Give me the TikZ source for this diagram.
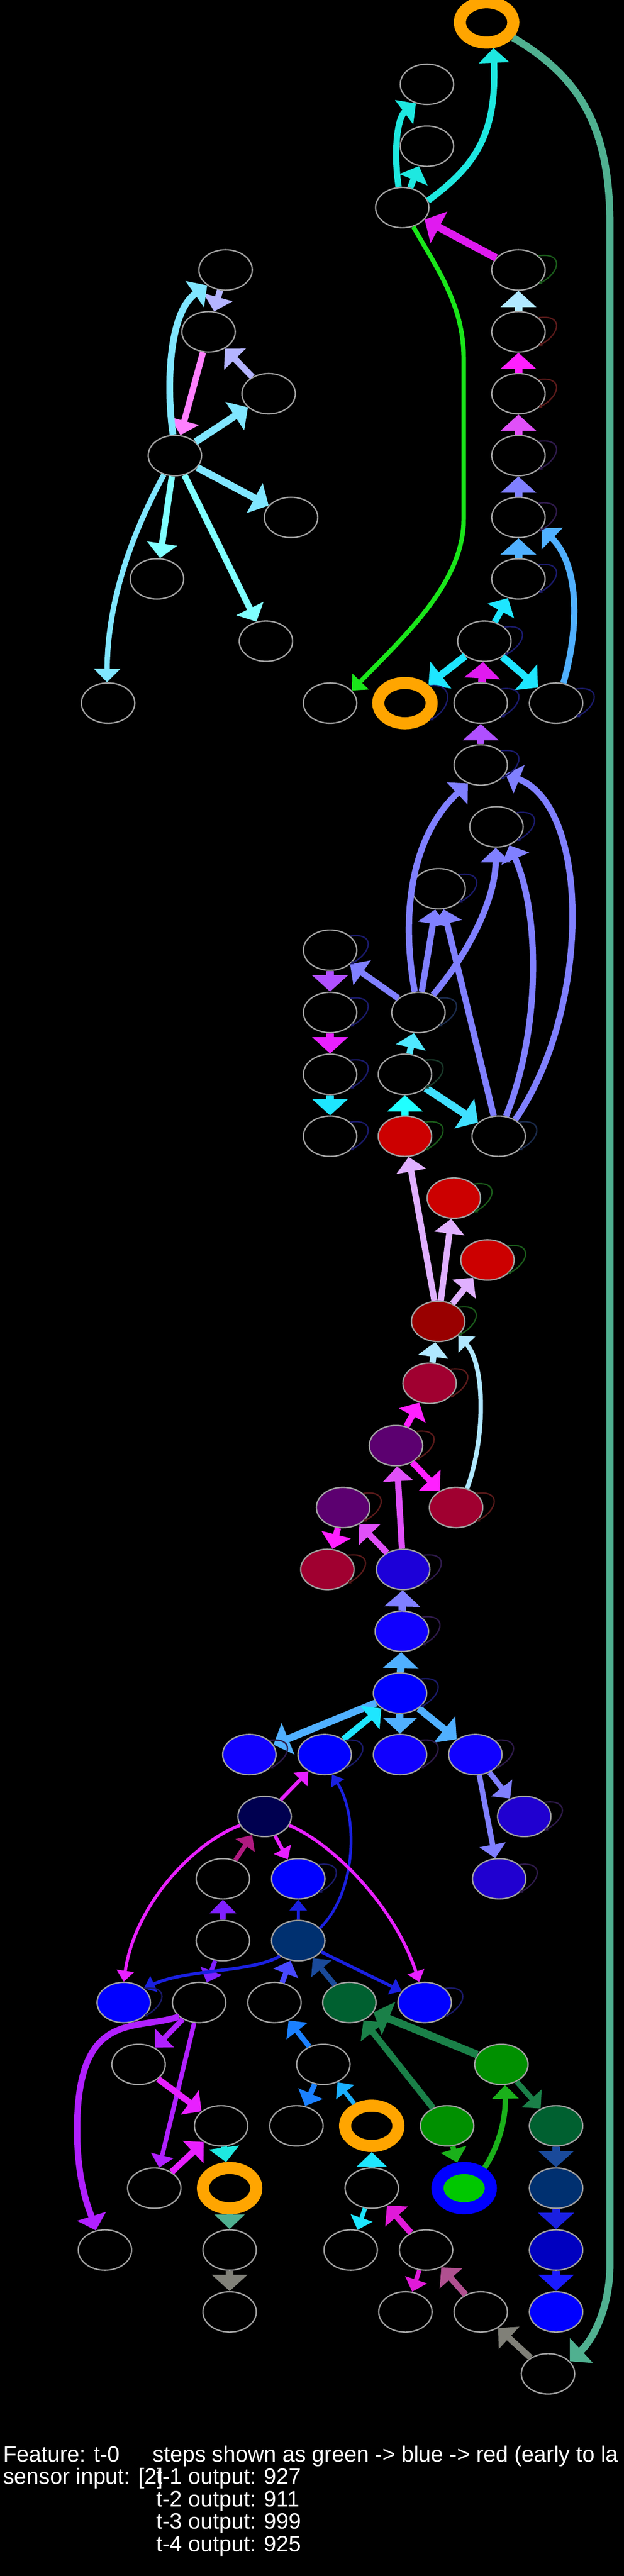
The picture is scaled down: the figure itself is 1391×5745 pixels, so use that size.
\documentclass[tikz,border=0pt]{standalone}
\usepackage{fontspec}
\setmainfont{Liberation Sans}
\usetikzlibrary{arrows.meta,shapes.geometric}

\definecolor{ndgray}{HTML}{A0A0A0}
\definecolor{ringor}{HTML}{FFA500}
\definecolor{fRed}{HTML}{CC0000}
\definecolor{fDred}{HTML}{990000}
\definecolor{fCrim}{HTML}{A00030}
\definecolor{fPurp}{HTML}{5C0070}
\definecolor{fViol}{HTML}{1C00D8}
\definecolor{fBlu}{HTML}{1000FF}
\definecolor{fNavy}{HTML}{000050}
\definecolor{fInd}{HTML}{2000D0}
\definecolor{fDnav}{HTML}{003070}
\definecolor{fDgrn}{HTML}{006030}
\definecolor{fGrn}{HTML}{009000}
\definecolor{fMblu}{HTML}{0000C0}
\definecolor{fLgrn}{HTML}{00C800}
\definecolor{cyA}{HTML}{1EE8E0}
\definecolor{cyB}{HTML}{1EE6FF}
\definecolor{cyC}{HTML}{50E8FF}
\definecolor{cyD}{HTML}{20FFFF}
\definecolor{cyE}{HTML}{40E0FF}
\definecolor{mgA}{HTML}{E01AF0}
\definecolor{mgB}{HTML}{FF20FF}
\definecolor{mgC}{HTML}{E820FF}
\definecolor{mgD}{HTML}{E01AD8}
\definecolor{vlA}{HTML}{E050F8}
\definecolor{vlB}{HTML}{B050FF}
\definecolor{vlC}{HTML}{8020FF}
\definecolor{vlD}{HTML}{B020FF}
\definecolor{pw}{HTML}{8080FF}
\definecolor{azA}{HTML}{50B0FF}
\definecolor{azB}{HTML}{1A80FF}
\definecolor{azC}{HTML}{1AB0FF}
\definecolor{lbA}{HTML}{B0E8FF}
\definecolor{skA}{HTML}{80E6FF}
\definecolor{skB}{HTML}{80FFFF}
\definecolor{lvA}{HTML}{B4B4FF}
\definecolor{lvB}{HTML}{E0B0FF}
\definecolor{pkA}{HTML}{FF80FF}
\definecolor{plA}{HTML}{B01A80}
\definecolor{plB}{HTML}{B05090}
\definecolor{blA}{HTML}{1A20E0}
\definecolor{blB}{HTML}{4848FF}
\definecolor{blC}{HTML}{1A1AFF}
\definecolor{stA}{HTML}{1A4A9A}
\definecolor{gnA}{HTML}{1A8048}
\definecolor{gnB}{HTML}{1AB01A}
\definecolor{gnC}{HTML}{1AE61A}
\definecolor{tlA}{HTML}{50B090}
\definecolor{gyA}{HTML}{808078}
\definecolor{lgn}{HTML}{1A5A1A}
\definecolor{lrd}{HTML}{5A1A1A}
\definecolor{lpr}{HTML}{2E1A4A}
\definecolor{lnv}{HTML}{1A1A6A}
\definecolor{lsl}{HTML}{1A2A4A}
\definecolor{lsg}{HTML}{1A3A2A}

\tikzset{
  nd/.style={ellipse, draw=ndgray, line width=3pt, fill=black, minimum width=119pt, minimum height=90pt, inner sep=0pt},
  ring/.style={nd, draw=ringor, line width=27pt},
  ed/.style={line width=#1pt, -{Triangle[length=16pt 1.2,width=10pt 4]}},
  lp/.style={draw=#1, line width=3pt, -{Triangle[length=8pt,width=8pt]}},
  txt/.style={text=white, anchor=base west, inner sep=0pt, font=\fontsize{49.5}{50}\selectfont}
}

\begin{document}
\begin{tikzpicture}[x=1pt,y=1pt]
  \path[use as bounding box, fill=black] (0,0) rectangle (1391,-5745);

  \foreach \n/\x/\y/\f in {B/952/188/black, C/952/326/black, D/897/463/black, E/1156/602/black,
      F/1156/740/black, G/503/602/black, H/465/740/black, I/599/878/black, J/1156/878/black,
      K/390/1016/black, L/1156/1016/black, M/649/1154/black, N/1156/1154/black, O/350/1291/black,
      P/1156/1291/black, Q/593/1430/black, R/1080/1430/black, S/241/1568/black, T/736/1568/black,
      V/1072/1568/black, W/1240/1568/black, X/1072/1706/black, Y/1107/1844/black, Z/978/1982/black,
      AA/736/2119/black, AB/736/2258/black, AC/933/2258/black, AD/736/2396/black, AE/903/2396/black,
      AF/736/2534/black, AG/903/2534/fRed, AH/1112/2534/black, AI/1012/2672/fRed, AJ/1087/2810/fRed,
      AK/977/2947/fDred, AL/958/3085/fCrim, AM/883/3224/fPurp, AN/765/3362/fPurp, AO/1017/3362/fCrim,
      AP/730/3500/fCrim, AQ/899/3500/fViol, AR/896/3638/fBlu, AS/892/3776/blue, AT/556/3913/fBlu,
      AU/724/3913/blue, AV/892/3913/fBlu, AW/1060/3913/fBlu, AY/590/4051/fNavy, AZ/1169/4051/fInd,
      BA/497/4190/black, BB/665/4190/blue, BC/1113/4190/fInd, BD/497/4328/black, BE/665/4328/fDnav,
      BF/276/4466/blue, BG/444/4466/black, BH/612/4466/black, BI/779/4466/fDgrn, BJ/947/4466/blue,
      BK/309/4604/black, BL/721/4604/black, BM/1118/4604/fGrn, BN/493/4741/black, BO/661/4741/black,
      BQ/997/4741/fGrn, BR/1240/4741/fDgrn, BU/344/4880/black, BW/829/4880/black, BX/1240/4880/fDnav,
      BY/234/5018/black, BZ/512/5018/black, CA/782/5018/black, CB/950/5018/black, CC/1240/5018/fMblu,
      CD/512/5156/black, CE/904/5156/black, CF/1072/5156/black, CG/1240/5156/blue, CH/1222/5294/black}
    \node[nd, fill=\f] (\n) at (\x,-\y) {};
  \node[ring] (A) at (1085,-50) {};
  \node[ring] (U) at (903,-1568) {};
  \node[ring] (BP) at (829,-4741) {};
  \node[ring] (BV) at (512,-4880) {};
  \node[ring, draw=blue, fill=fLgrn] (BT) at (1035,-4880) {};

  \foreach \a/\b/\w/\c in {D/C/14/cyA, E/D/17/mgA, F/E/17/lbA, J/F/17/mgB, L/J/17/vlA, N/L/17/pw,
      P/N/17/azA, R/P/14/cyB, R/U/16/cyB, R/W/16/cyB, V/R/17/mgA, X/V/17/vlB, G/H/14/lvA, I/H/14/lvA,
      H/K/14/pkA, K/I/16/skA, K/M/16/skA, K/O/14/skB, K/Q/14/skB, AC/Z/14/pw, AC/AA/14/pw, AH/Z/14/pw,
      AA/AB/17/vlB, AB/AD/17/mgC, AE/AC/14/cyC, AD/AF/17/cyB, AG/AE/17/cyD, AE/AH/17/cyE,
      AK/AG/14/lvB, AK/AI/14/lvB, AK/AJ/14/lvB, AL/AK/14/lbA, AM/AL/14/mgB, AM/AO/14/mgB,
      AQ/AM/14/vlA, AQ/AN/14/vlA, AN/AP/14/mgB, AR/AQ/17/pw, AS/AR/17/azA, AS/AT/16/azA,
      AS/AV/16/azA, AS/AW/16/azA, AU/AS/14/cyB, AW/AZ/12/pw, AW/BC/12/pw, AY/AU/8/mgC, AY/BB/8/mgC,
      BA/AY/10/plA, BD/BA/12/vlC, BD/BG/10/vlC, BE/BB/7/blA, BE/BJ/7/blA, BH/BE/12/blB, BI/BE/12/stA,
      BL/BH/12/azB, BL/BO/12/azB, BP/BL/10/azC, BM/BI/17/gnA, BQ/BI/14/gnA, BM/BR/12/gnA,
      BG/BK/12/vlD, BG/BU/10/vlD, BK/BN/14/mgC, BU/BN/14/mgC, BN/BV/14/cyA, BV/BZ/14/tlA,
      BZ/CD/17/gyA, BW/BP/14/cyB, BW/CA/10/cyB, CB/BW/14/mgD, CB/CE/10/mgD, CF/CB/14/plB,
      CH/CF/14/gyA, BQ/BT/12/gnB, BR/BX/17/stA, BX/CC/17/blA, CC/CG/17/blC}
    \draw[ed=\w, color=\c] (\a) -- (\b);

  \draw[ed=14, cyA] (D.15) .. controls (1060,-370) and (1108,-300) .. (A.-75);
  \draw[ed=14, cyA] (D.100) .. controls (876,-330) and (888,-260) .. (B.-120);
  \draw[ed=10, gnC] (D.-60) .. controls (975,-600) and (1034,-680) .. (1034,-800)
    -- (1034,-1157) .. controls (1034,-1300) and (900,-1420) .. (T.30);
  \draw[ed=15, skA] (K.95) .. controls (372,-880) and (372,-700) .. (G.-140);
  \draw[ed=12, skA] (K.-120) .. controls (300,-1180) and (240,-1330) .. (S.93);
  \draw[ed=14, azA] (W.70) .. controls (1292,-1400) and (1292,-1260) .. (N.-25);
  \draw[ed=14, pw] (AC.100) .. controls (895,-2050) and (912,-1870) .. (X.-125);
  \draw[ed=14, pw] (AC.50) .. controls (1050,-2120) and (1105,-2000) .. (Y.-92);
  \draw[ed=14, pw] (AH.70) .. controls (1205,-2300) and (1205,-2040) .. (Y.-55);
  \draw[ed=14, pw] (AH.45) .. controls (1318,-2250) and (1318,-1800) .. (X.-20);
  \draw[ed=10, lbA] (AO.60) .. controls (1085,-3200) and (1080,-3040) .. (AK.-35);
  \draw[ed=6, blA] (BE.30) .. controls (795,-4220) and (800,-4050) .. (AU.-70);
  \draw[ed=7, mgC] (AY.200) .. controls (430,-4110) and (300,-4250) .. (BF.90);
  \draw[ed=7, mgC] (AY.-20) .. controls (740,-4110) and (880,-4250) .. (BJ.105);
  \draw[ed=7, blA] (BE.-140) .. controls (560,-4400) and (420,-4390) .. (BF.35);
  \draw[ed=14, vlD] (BG.-145) .. controls (300,-4530) and (172,-4480) .. (172,-4750)
    .. controls (172,-4870) and (200,-4930) .. (BY.115);
  \draw[ed=12, gnB] (BT.45) .. controls (1110,-4790) and (1128,-4730) .. (BM.-80);
  \draw[ed=16, tlA] (A.-30) .. controls (1290,-170) and (1360,-280) .. (1360,-500)
    -- (1360,-5050) .. controls (1360,-5150) and (1320,-5220) .. (CH.30);

  \foreach \n/\c in {E/lgn, F/lrd, J/lrd, L/lpr, N/lpr, P/lnv, R/lnv, U/lnv, V/lnv, W/lnv, X/lnv,
      Y/lnv, Z/lnv, AA/lnv, AB/lnv, AC/lsl, AD/lnv, AE/lsg, AF/lnv, AG/lgn, AH/lsl, AI/lgn, AJ/lgn,
      AK/lgn, AL/lrd, AM/lrd, AN/lrd, AO/lrd, AP/lrd, AQ/lpr, AR/lpr, AS/lnv, AT/lpr, AU/lnv,
      AV/lpr, AW/lpr, AZ/lpr, BB/lnv, BC/lpr, BF/lnv, BJ/lnv}
    \draw[lp=\c] (\n.35) .. controls +(55,8) and +(50,28) .. (\n.-35);

  \node[txt] (feat) at (7,-5490) {Feature: t-0};
  \node[txt] (sens) at (7,-5540) {sensor input: [2]};
  \node[txt] (steps) at (341,-5490) {steps shown as green -> blue -> red (early to la};
  \foreach \k/\v [count=\i] in {1/927,2/911,3/999,4/925}
    \node[txt] (out\k) at (348,-5490-50*\i) {t-\k{} output: \v};
\end{tikzpicture}
\end{document}
